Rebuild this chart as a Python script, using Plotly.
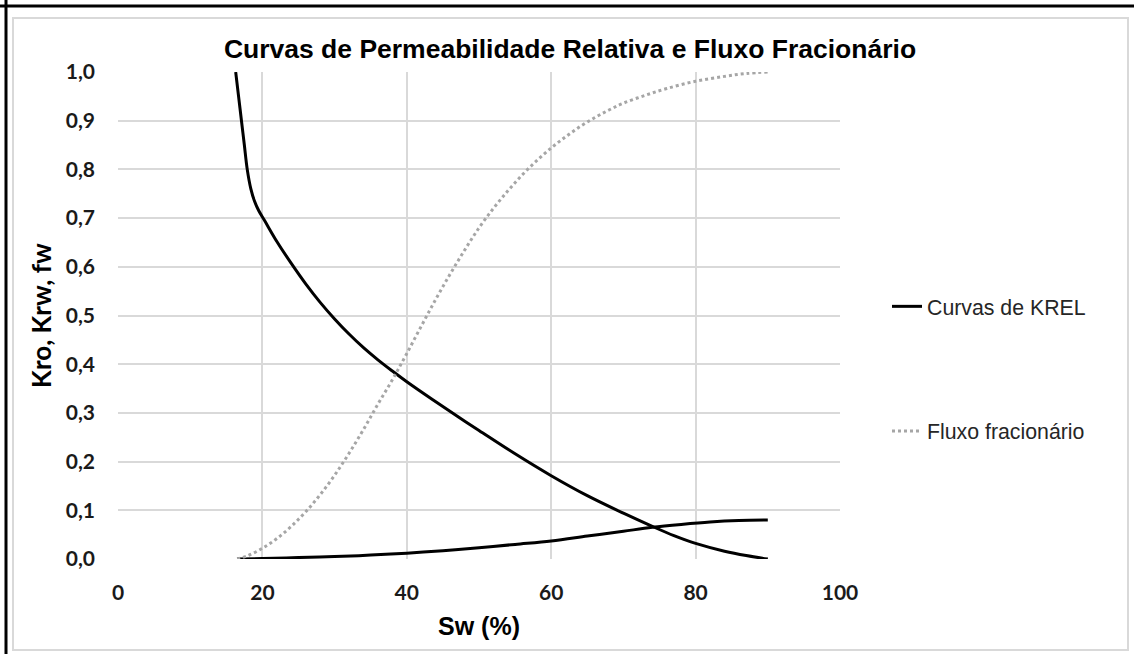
import plotly.graph_objects as go

# Oil relative permeability (Kro) vs water saturation
sw_kro = [16.3, 16.7, 17.1, 17.5, 17.9, 18.4, 18.9, 19.5, 20.3, 22, 24, 26, 28, 30, 32, 34,
          36, 38, 40, 43.6, 47, 50, 55, 60, 65, 70, 74, 77, 80, 84, 87, 90]
kro = [1.0, 0.95, 0.9, 0.85, 0.8, 0.76, 0.735, 0.715, 0.695, 0.652, 0.607, 0.565, 0.527,
       0.493, 0.462, 0.434, 0.409, 0.386, 0.364, 0.327, 0.293, 0.264, 0.216, 0.171, 0.13,
       0.094, 0.067, 0.048, 0.032, 0.016, 0.007, 0.0]

# Water relative permeability (Krw)
sw_krw = [16.5, 20, 25, 30, 35, 40, 45, 50, 55, 60, 65, 70, 74, 78, 82, 86, 90]
krw = [0.0, 0.001, 0.003, 0.005, 0.008, 0.012, 0.017, 0.023, 0.03, 0.037, 0.047, 0.057,
       0.065, 0.071, 0.076, 0.079, 0.08]

# Fractional flow of water (fw)
sw_fw = [16.5, 18, 20, 22, 24, 26, 28, 30, 32, 34, 36, 38, 40, 42, 44, 46, 48, 50, 52, 54,
         56, 58, 60, 62, 64, 66, 68, 70, 73, 76, 80, 84, 87, 90]
fw = [0.0, 0.007, 0.022, 0.042, 0.067, 0.097, 0.132, 0.172, 0.217, 0.266, 0.318, 0.368,
      0.422, 0.478, 0.533, 0.585, 0.634, 0.68, 0.72, 0.756, 0.789, 0.818, 0.844, 0.867,
      0.888, 0.906, 0.922, 0.936, 0.952, 0.966, 0.981, 0.991, 0.997, 1.0]

x_ticks = [0, 20, 40, 60, 80, 100]
y_ticks = [0.0, 0.1, 0.2, 0.3, 0.4, 0.5, 0.6, 0.7, 0.8, 0.9, 1.0]
y_tick_text = [f"{v:.1f}".replace(".", ",") for v in y_ticks]

W, H = 1134, 654
L, R, T, B = 118, 840, 72, 559


def px(x):
    return (x - L) / (R - L)


def py(y):
    return (B - y) / (B - T)


fig = go.Figure()
fig.add_trace(go.Scatter(
    x=sw_kro, y=kro, mode="lines", name="Curvas de KREL",
    line=dict(color="#000000", width=3, shape="spline", smoothing=1),
    legendgroup="krel"))
fig.add_trace(go.Scatter(
    x=sw_krw, y=krw, mode="lines", name="Curvas de KREL", showlegend=False,
    line=dict(color="#000000", width=3, shape="spline", smoothing=1),
    legendgroup="krel"))
fig.add_trace(go.Scatter(
    x=sw_fw, y=fw, mode="lines", name="Fluxo fracionário",
    line=dict(color="#a6a6a6", width=3, dash="dot", shape="spline", smoothing=1),
    legendgroup="fw"))

grid = "#d9d9d9"
tick_font = dict(family="Lato", size=21, color="#1a1a1a", weight="bold")

fig.update_layout(
    width=W, height=H,
    margin=dict(l=L, r=W - R, t=T, b=H - B),
    paper_bgcolor="#ffffff", plot_bgcolor="#ffffff",
    title=dict(text="<b>Curvas de Permeabilidade Relativa e Fluxo Fracionário</b>",
               x=570 / W, xanchor="center", y=1 - 49 / H, yanchor="middle",
               yref="container",
               font=dict(family="Liberation Sans", size=26.5, color="#000000")),
    xaxis=dict(range=[0, 100], tickvals=x_ticks, ticktext=[str(v) for v in x_ticks],
               showgrid=True, gridcolor=grid, gridwidth=1.5, zeroline=False,
               showline=False, ticks="", tickfont=tick_font, ticklabelstandoff=19,
               title=dict(text="<b>Sw (%)</b>", standoff=14,
                          font=dict(family="Liberation Sans", size=25, color="#000000"))),
    yaxis=dict(range=[0, 1], tickvals=y_ticks, ticktext=y_tick_text,
               showgrid=True, gridcolor=grid, gridwidth=1.5, zeroline=False,
               showline=False, ticks="", tickfont=tick_font, ticklabelstandoff=22,
               title=dict(text="<b>Kro, Krw, fw</b>", standoff=6,
                          font=dict(family="Lato", size=26, color="#000000"))),
    legend=dict(x=px(887), xanchor="left", y=py(286), yanchor="top",
                font=dict(family="Liberation Sans", size=21.3, color="#262626"),
                bgcolor="rgba(0,0,0,0)", tracegroupgap=94, traceorder="grouped"),
    showlegend=True,
    shapes=[
        # light chart-area frame
        dict(type="rect", xref="paper", yref="paper",
             x0=px(13), x1=px(1128), y0=py(650), y1=py(18),
             line=dict(color="#d9d9d9", width=2), layer="below"),
        # dark outer border along top and left
        dict(type="line", xref="paper", yref="paper",
             x0=px(0), x1=px(W), y0=py(6), y1=py(6),
             line=dict(color="#000000", width=3)),
        dict(type="line", xref="paper", yref="paper",
             x0=px(6), x1=px(6), y0=py(0), y1=py(H),
             line=dict(color="#000000", width=3)),
    ],
)

fig.write_html("out.html")
